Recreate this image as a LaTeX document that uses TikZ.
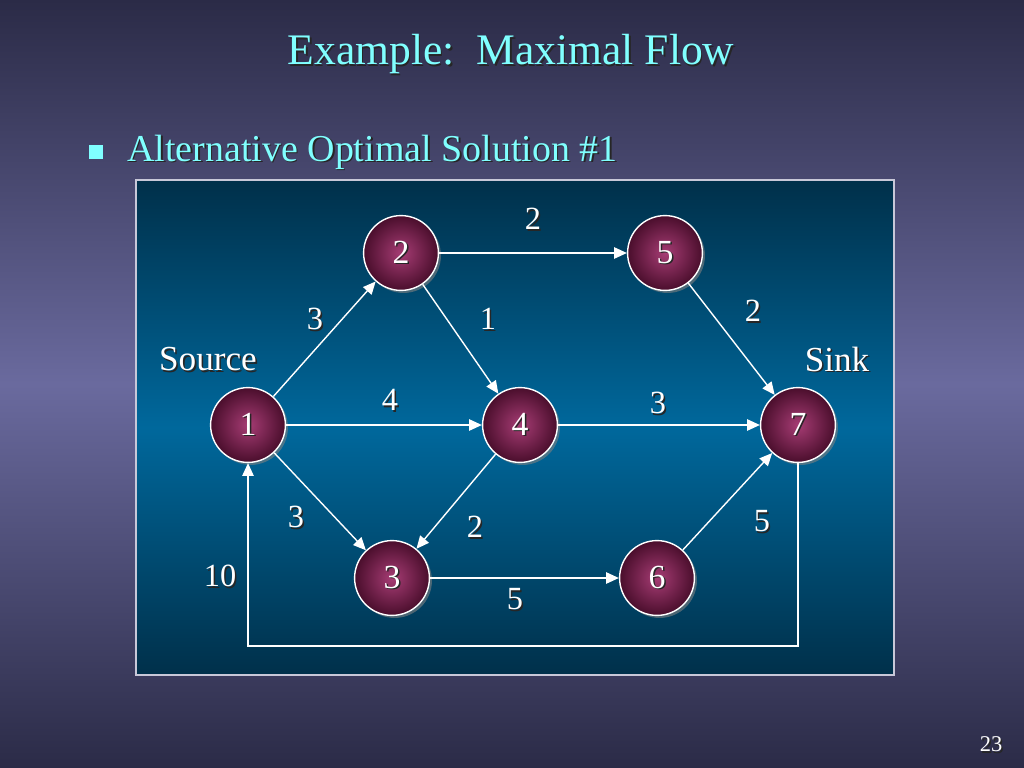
\documentclass[tikz,border=0pt]{standalone}
\usepackage{fontspec}
\setmainfont{Liberation Serif}
\usepackage{tikz}
\usetikzlibrary{arrows.meta,shadows,positioning}

\definecolor{slidedark}{HTML}{2B2B47}
\definecolor{slidelight}{HTML}{6A6A9E}
\definecolor{paneldark}{HTML}{00304A}
\definecolor{panellight}{HTML}{00689C}
\definecolor{headcyan}{HTML}{80FFFF}
\definecolor{nodelight}{HTML}{A63C74}
\definecolor{nodedark}{HTML}{4A0E2C}
\definecolor{framegray}{HTML}{C8C8D8}

% text with a small dark shadow
\newcommand{\shadowtxt}[1]{\leavevmode\rlap{\kern1.1pt\raisebox{-1.1pt}{\color{black!85}#1}}#1}

\begin{document}
\begin{tikzpicture}[x=0.025cm, y=-0.025cm,
  netnode/.style={circle, draw=white, line width=1pt, minimum size=1.87cm, inner sep=0pt,
    inner color=nodelight, outer color=nodedark, text=white, font=\fontsize{24}{28}\selectfont,
    drop shadow={opacity=0.6, shadow xshift=1.8pt, shadow yshift=-1.8pt}},
  flow/.style={draw=white, line width=1pt, -{Triangle[length=9pt,width=8pt]}},
  lbl/.style={text=white, inner sep=0pt, font=\fontsize{23}{27}\selectfont}]
  \useasboundingbox (0,0) rectangle (1024,768);
  \shade[top color=slidedark, bottom color=slidedark, middle color=slidelight] (0,0) rectangle (1024,768);

  % heading
  \node[text=headcyan, anchor=base, font=\fontsize{31}{36}\selectfont] (title) at (511,65) {\shadowtxt{Example:\ \ Maximal Flow}};
  \node[fill=headcyan, minimum size=0.33cm, inner sep=0pt] (bul) at (96,152) {};
  \node[text=headcyan, anchor=base west, inner sep=0pt, font=\fontsize{27}{32}\selectfont] (sub) at (127,161) {\shadowtxt{Alternative Optimal Solution \#1}};

  % panel
  \shade[top color=paneldark, bottom color=paneldark, middle color=panellight] (136,180) rectangle (894,675);
  \draw[framegray, line width=1.1pt] (136,180) rectangle (894,675);

  % network
  \node[netnode] (n1) at (248,425) {\shadowtxt{1}};
  \node[netnode] (n2) at (401,253) {\shadowtxt{2}};
  \node[netnode] (n5) at (665,253) {\shadowtxt{5}};
  \node[netnode] (n4) at (520,425) {\shadowtxt{4}};
  \node[netnode] (n7) at (798,425) {\shadowtxt{7}};
  \node[netnode] (n3) at (392,578) {\shadowtxt{3}};
  \node[netnode] (n6) at (657,578) {\shadowtxt{6}};

  \draw[flow] (n1) -- (n2);
  \draw[flow] (n1) -- (n4);
  \draw[flow] (n1) -- (n3);
  \draw[flow] (n2) -- (n5);
  \draw[flow] (n2) -- (n4);
  \draw[flow] (n5) -- (n7);
  \draw[flow] (n4) -- (n7);
  \draw[flow] (n4) -- (n3);
  \draw[flow] (n3) -- (n6);
  \draw[flow] (n6) -- (n7);
  \draw[flow] (n7.south) -- ++(0,183) -| (n1.south);

  % flows
  \node[lbl] (c25) at (533,220) {\shadowtxt{2}};
  \node[lbl] (c12) at (315,320) {\shadowtxt{3}};
  \node[lbl] (c24) at (488,320) {\shadowtxt{1}};
  \node[lbl] (c57) at (753,312) {\shadowtxt{2}};
  \node[lbl] (c14) at (390,401) {\shadowtxt{4}};
  \node[lbl] (c47) at (658,404) {\shadowtxt{3}};
  \node[lbl] (c13) at (296,518) {\shadowtxt{3}};
  \node[lbl] (c43) at (475,528) {\shadowtxt{2}};
  \node[lbl] (c67) at (762,522) {\shadowtxt{5}};
  \node[lbl] (c36) at (515,600) {\shadowtxt{5}};
  \node[lbl] (c71) at (220,577) {\shadowtxt{10}};
  \node[lbl, font=\fontsize{25}{29}\selectfont] (src) at (208,360) {\shadowtxt{Source}};
  \node[lbl, font=\fontsize{25}{29}\selectfont] (snk) at (837,360) {\shadowtxt{Sink}};

  \node[text=white, inner sep=0pt, font=\fontsize{16}{19}\selectfont] (page) at (991,745) {\shadowtxt{23}};
\end{tikzpicture}
\end{document}
